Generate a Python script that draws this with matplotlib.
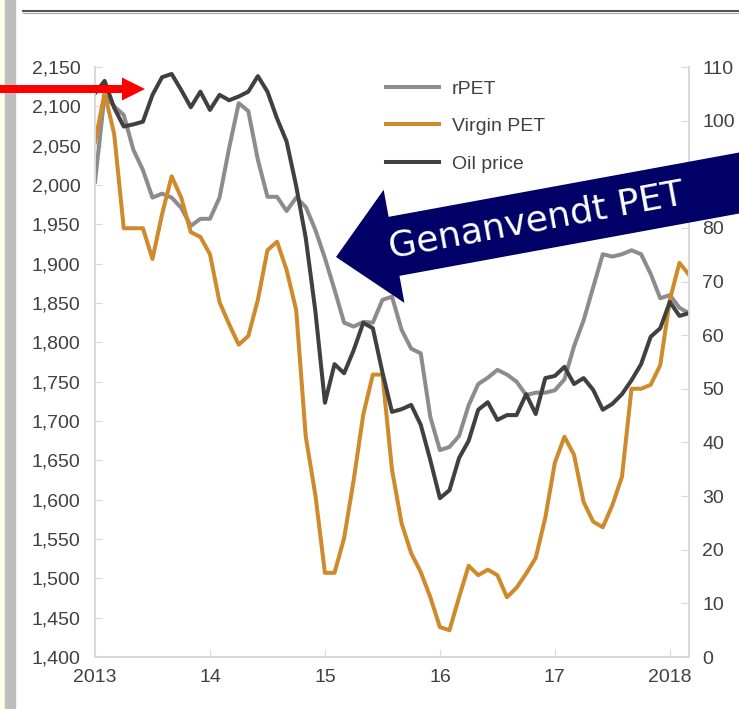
"""Recycled PET vs virgin PET vs oil price, monthly 2013-2018."""

from __future__ import annotations

import matplotlib

matplotlib.use("Agg")
import matplotlib.pyplot as plt
import numpy as np
from matplotlib.lines import Line2D
from matplotlib.patches import FancyArrow, Rectangle

# Monthly values from Jan 2013 to Mar 2018 (63 months)
start_year = 2013
rpet = [
	2004, 2114, 2100, 2089, 2045, 2019, 1984, 1989, 1984, 1971,
	1948, 1957, 1957, 1984, 2047, 2104, 2094, 2032, 1985, 1985,
	1967, 1984, 1972, 1943, 1907, 1867, 1825, 1820, 1826, 1825,
	1854, 1858, 1816, 1792, 1786, 1705, 1663, 1667, 1681, 1720,
	1747, 1755, 1765, 1759, 1750, 1733, 1736, 1736, 1739, 1753,
	1795, 1828, 1870, 1912, 1909, 1912, 1917, 1912, 1887, 1856,
	1860, 1844, 1837,
]
virgin_pet = [
	2054, 2117, 2065, 1945, 1945, 1945, 1906, 1963, 2011, 1984,
	1940, 1934, 1912, 1851, 1823, 1797, 1808, 1854, 1917, 1928,
	1892, 1841, 1680, 1606, 1507, 1507, 1551, 1625, 1708, 1759,
	1759, 1638, 1570, 1532, 1508, 1476, 1438, 1434, 1476, 1516,
	1504, 1511, 1504, 1476, 1488, 1506, 1526, 1577, 1647, 1680,
	1657, 1597, 1572, 1565, 1593, 1629, 1741, 1741, 1746, 1771,
	1854, 1901, 1886,
]
oil_price = [
	105.1, 107.4, 102.4, 98.9, 99.3, 99.8, 104.8, 108.1, 108.7, 105.7,
	102.5, 105.4, 102.0, 104.8, 103.8, 104.5, 105.4, 108.3, 105.4, 100.4,
	96.1, 87.8, 78.1, 64.5, 47.4, 54.6, 52.9, 57.2, 62.3, 61.3,
	53.1, 45.7, 46.2, 47.0, 43.3, 36.7, 29.6, 31.1, 37.1, 40.3,
	46.1, 47.5, 44.2, 45.1, 45.1, 49.0, 45.3, 52.0, 52.4, 54.1,
	50.9, 52.0, 49.8, 46.1, 47.2, 49.0, 51.6, 54.6, 59.7, 61.3,
	66.2, 63.6, 64.1,
]

series_labels = ["rPET", "Virgin PET", "Oil price"]
year_ticks = [2013, 2014, 2015, 2016, 2017, 2018]
year_labels = ["2013", "14", "15", "16", "17", "2018"]
left_ticks = list(range(1400, 2151, 50))
right_ticks = list(range(0, 111, 10))
callout_text = "Genanvendt PET"

COLOR_RPET = "#8c8c8c"
COLOR_VIRGIN = "#cf8b2b"
COLOR_OIL = "#404040"
TEXT_COLOR = "#404040"
SPINE_COLOR = "#d9d9d9"


def style_axis(ax) -> None:
	ax.spines["top"].set_visible(False)
	for side in ("left", "right", "bottom"):
		ax.spines[side].set_color(SPINE_COLOR)
		ax.spines[side].set_linewidth(1.2)


def main() -> None:
	plt.rcParams["font.family"] = ["Liberation Sans", "DejaVu Sans"]

	fig = plt.figure(figsize=(7.39, 7.09), dpi=100)
	ax = fig.add_axes([95 / 739, 52 / 709, (689 - 95) / 739, (657 - 67) / 709])
	ax2 = ax.twinx()

	months = start_year + np.arange(len(rpet)) / 12.0

	(l1,) = ax.plot(months, rpet, color=COLOR_RPET, lw=2.9)
	(l2,) = ax.plot(months, virgin_pet, color=COLOR_VIRGIN, lw=2.9)
	(l3,) = ax2.plot(months, oil_price, color=COLOR_OIL, lw=2.9)

	ax.set_xlim(start_year, months[-1])
	ax.set_ylim(1400, 2150)
	ax2.set_ylim(0, 110)

	ax.set_xticks(year_ticks)
	ax.set_xticklabels(year_labels)
	ax.set_yticks(left_ticks)
	ax.set_yticklabels([f"{v:,}" for v in left_ticks])
	ax2.set_yticks(right_ticks)

	style_axis(ax)
	style_axis(ax2)
	ax.tick_params(axis="y", direction="in", length=5, color=SPINE_COLOR,
		labelsize=14, labelcolor=TEXT_COLOR, pad=10.5)
	ax.tick_params(axis="x", direction="in", length=6, color=SPINE_COLOR,
		labelsize=14, labelcolor=TEXT_COLOR, pad=9)
	ax2.tick_params(axis="y", direction="in", length=6, color=SPINE_COLOR,
		labelsize=14, labelcolor=TEXT_COLOR, pad=9.5)

	leg = ax2.legend(
		[l1, l2, l3],
		series_labels,
		loc="upper left",
		bbox_to_anchor=(386 / 739, 1 - 80 / 709),
		bbox_transform=fig.transFigure,
		frameon=False,
		fontsize=14,
		handlelength=2.75,
		handletextpad=0.65,
		labelspacing=1.03,
		borderpad=0,
		borderaxespad=0,
	)
	for txt in leg.get_texts():
		txt.set_color(TEXT_COLOR)

	# page decoration: cream strip, grey bar and header rule
	fig.patches.append(Rectangle((0, 0), 5 / 739, 1, transform=fig.transFigure,
		color="#fefee8", zorder=0))
	fig.patches.append(Rectangle((5 / 739, 0), 10 / 739, 1, transform=fig.transFigure,
		color="#bebebe", zorder=0))
	fig.lines.append(Line2D([23 / 739, 1], [1 - 11 / 709] * 2, transform=fig.transFigure,
		color="#555555", lw=1.5))
	fig.lines.append(Line2D([23 / 739, 1], [1 - 13 / 709] * 2, transform=fig.transFigure,
		color="#aaaaaa", lw=0.8))

	# red pointer arrow (figure inches, 1 px = 0.01 in)
	fig.patches.append(FancyArrow(0.0, (709 - 89) / 100, 1.45, 0.0,
		width=0.08, head_width=0.23, head_length=0.23, length_includes_head=True,
		transform=fig.dpi_scale_trans, color="#ff0000", lw=0, zorder=10))

	# big navy callout arrow
	theta = np.deg2rad(10.4)
	tip_x, tip_y = 3.36, (709 - 257) / 100
	length = 6.0
	tail_x = tip_x + length * np.cos(theta)
	tail_y = tip_y + length * np.sin(theta)
	fig.patches.append(FancyArrow(tail_x, tail_y, tip_x - tail_x, tip_y - tail_y,
		width=0.60, head_width=1.15, head_length=0.59, length_includes_head=True,
		transform=fig.dpi_scale_trans, color="#000066", lw=0, zorder=10))
	fig.text(5.36, (709 - 221) / 100, callout_text, transform=fig.dpi_scale_trans,
		rotation=10.4, rotation_mode="anchor", ha="center", va="center",
		color="white", fontsize=26, family=["DejaVu Sans"], zorder=11)

	fig.savefig("out.png", dpi=100)
	plt.close(fig)


if __name__ == "__main__":
	main()
